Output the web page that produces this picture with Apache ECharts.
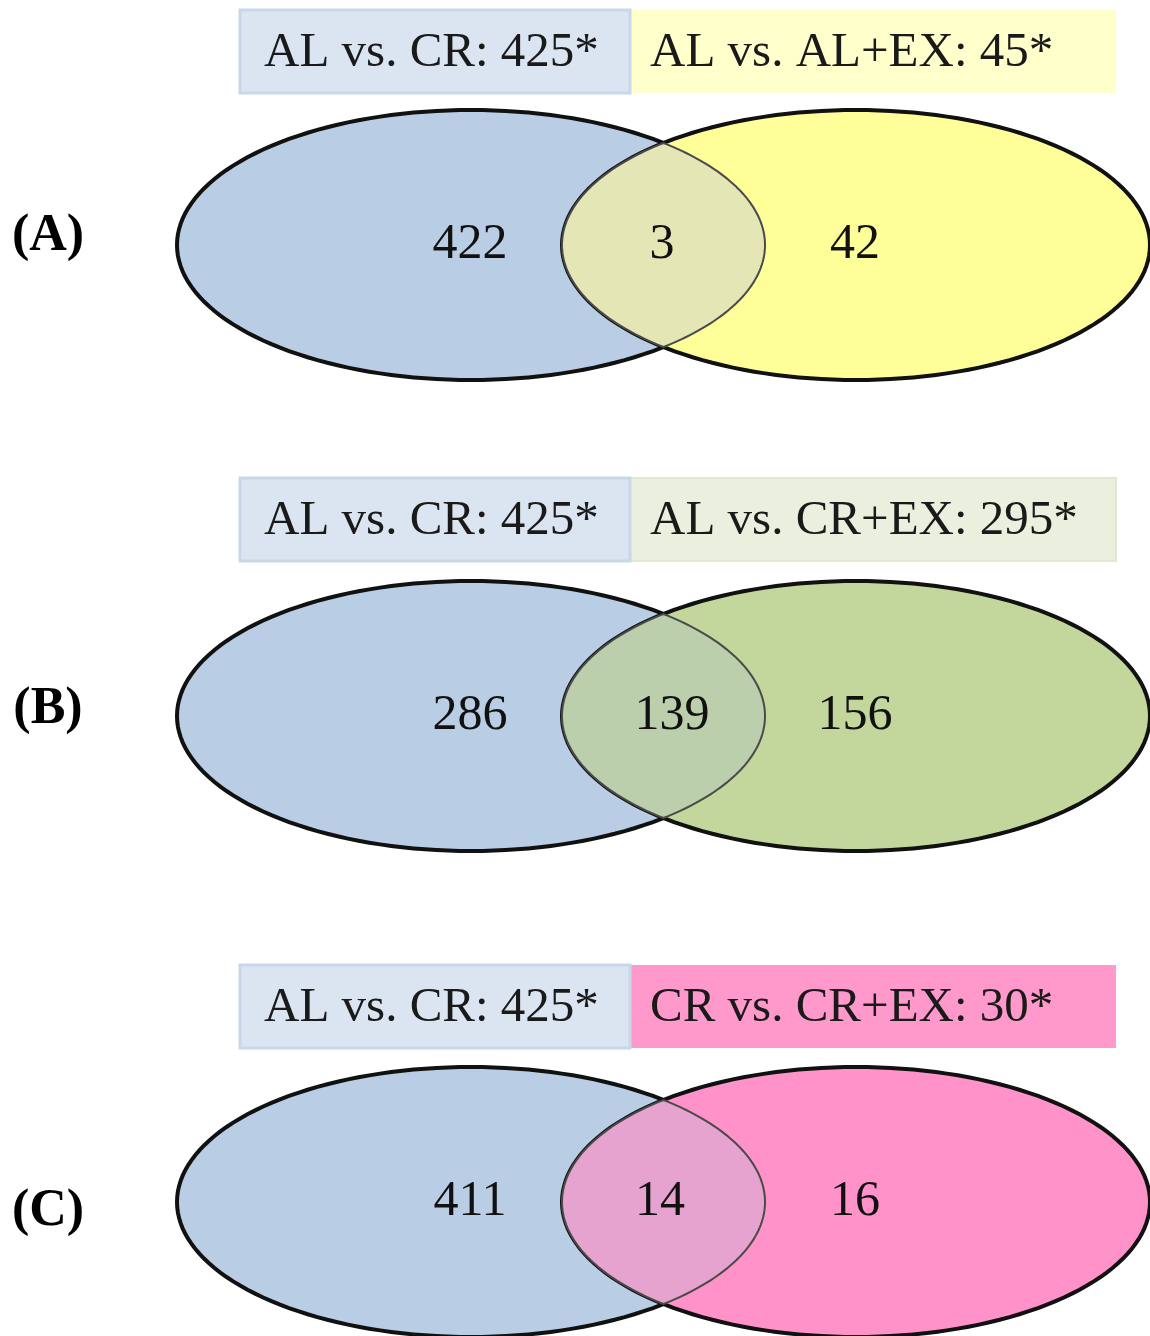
<!DOCTYPE html>
<html>
<head>
<meta charset="utf-8">
<title>Venn</title>
<script src="https://cdn.jsdelivr.net/npm/echarts@6/dist/echarts.min.js"></script>
<style>
  html, body { margin: 0; padding: 0; background: #fff; }
  #chart { width: 1150px; height: 1336px; }
</style>
</head>
<body>
<div id="chart"></div>
<script>
// panel data
var panelNames = ["(A)", "(B)", "(C)"];
var leftTitles = ["AL vs. CR: 425*", "AL vs. CR: 425*", "AL vs. CR: 425*"];
var rightTitles = ["AL vs. AL+EX: 45*", "AL vs. CR+EX: 295*", "CR vs. CR+EX: 30*"];
var leftOnly = [422, 286, 411];
var shared = [3, 139, 14];
var rightOnly = [42, 156, 16];

// colours
var leftFill = "#b9cde4";
var rightFills = ["#ffff99", "#c3d69b", "#ff93c9"];
var lensFills = ["#e4e6b6", "#bccfad", "#e6a3cf"];
var leftBoxFill = "#dbe5f1";
var rightBoxFills = ["#ffffcc", "#ebf0de", "#ff99cc"];

// layout (px, page coordinates)
var panelY = [245, 716, 1202];
var boxTop = [10, 478, 965];
var labelY = [237, 710, 1212];
var layout = {
  leftCx: 471, rightCx: 856, rx: 294, ry: 135,
  boxLeft: 240, boxMid: 630, boxRight: 1116, boxH: 83,
  leftNumX: 470, midNumX: [662, 672, 660], rightNumX: 855,
  labelX: 48
};

var chart = echarts.init(document.getElementById("chart"));

function ellipsePts(cx, cy, rx, ry, a0, a1, n) {
  var pts = [];
  for (var i = 0; i <= n; i++) {
    var t = a0 + (a1 - a0) * i / n;
    pts.push([cx + rx * Math.cos(t), cy + ry * Math.sin(t)]);
  }
  return pts;
}

function renderPanel(params, api) {
  var i = params.dataIndex;
  var cy = api.coord([0, panelY[i]])[1];
  var cl = api.coord([layout.leftCx, panelY[i]])[0];
  var cr = api.coord([layout.rightCx, panelY[i]])[0];
  var sz = api.size([layout.rx, layout.ry]);
  var rx = sz[0], ry = sz[1];
  var xm = (cl + cr) / 2;
  var th = Math.acos((xm - cr) / rx);
  var ph = Math.acos((xm - cl) / rx);
  // lens: left arc of right ellipse (bottom -> top), then right arc of left ellipse (top -> bottom)
  var lens = ellipsePts(cr, cy, rx, ry, th, 2 * Math.PI - th, 80)
    .concat(ellipsePts(cl, cy, rx, ry, -ph, ph, 80));

  var bt = api.coord([0, boxTop[i]])[1];
  var bl = api.coord([layout.boxLeft, 0])[0];
  var bm = api.coord([layout.boxMid, 0])[0];
  var br = api.coord([layout.boxRight, 0])[0];
  var serif = "'Liberation Serif', 'Times New Roman', serif";

  return {
    type: "group",
    children: [
      {
        type: "rect",
        shape: { x: bm, y: bt, width: br - bm, height: layout.boxH },
        style: { fill: rightBoxFills[i], stroke: i === 1 ? "#e2e8d0" : null, lineWidth: 2 }
      },
      {
        type: "rect",
        shape: { x: bl, y: bt, width: bm - bl, height: layout.boxH },
        style: { fill: leftBoxFill, stroke: "#c8d7ea", lineWidth: 3 }
      },
      {
        type: "text",
        style: {
          text: leftTitles[i], x: bl + 24, y: bt + layout.boxH / 2 + 2,
          font: "49px " + serif, fill: "#1a1a1a", verticalAlign: "middle"
        }
      },
      {
        type: "text",
        style: {
          text: rightTitles[i], x: bm + 20, y: bt + layout.boxH / 2 + 2,
          font: "49px " + serif, fill: "#1a1a1a", verticalAlign: "middle"
        }
      },
      {
        type: "polygon",
        shape: { points: ellipsePts(cl, cy, rx, ry, 0, 2 * Math.PI, 160) },
        style: { fill: leftFill, stroke: "#111", lineWidth: 4 }
      },
      {
        type: "polygon",
        shape: { points: ellipsePts(cr, cy, rx, ry, 0, 2 * Math.PI, 160) },
        style: { fill: rightFills[i], stroke: "#111", lineWidth: 4 }
      },
      {
        type: "polygon",
        shape: { points: lens },
        style: { fill: lensFills[i], stroke: "#4a4a4a", lineWidth: 2 }
      },
      {
        type: "text",
        style: {
          text: String(leftOnly[i]), x: api.coord([layout.leftNumX, 0])[0], y: cy,
          font: "50px " + serif, fill: "#111", align: "center", verticalAlign: "middle"
        }
      },
      {
        type: "text",
        style: {
          text: String(shared[i]), x: api.coord([layout.midNumX[i], 0])[0], y: cy,
          font: "50px " + serif, fill: "#111", align: "center", verticalAlign: "middle"
        }
      },
      {
        type: "text",
        style: {
          text: String(rightOnly[i]), x: api.coord([layout.rightNumX, 0])[0], y: cy,
          font: "50px " + serif, fill: "#111", align: "center", verticalAlign: "middle"
        }
      },
      {
        type: "text",
        style: {
          text: panelNames[i], x: api.coord([layout.labelX, 0])[0],
          y: api.coord([0, labelY[i]])[1],
          font: "bold 52px " + serif, fill: "#000", align: "center", verticalAlign: "middle"
        }
      }
    ]
  };
}

var option = {
  animation: false,
  grid: { left: 0, right: 0, top: 0, bottom: 0 },
  xAxis: { type: "value", min: 0, max: 1150, show: false },
  yAxis: { type: "value", min: 0, max: 1336, inverse: true, show: false },
  series: [
    {
      type: "custom",
      coordinateSystem: "cartesian2d",
      renderItem: renderPanel,
      clip: false,
      data: panelNames.map(function (n, i) { return [i, panelY[i]]; })
    }
  ]
};
chart.setOption(option);
</script>
</body>
</html>
